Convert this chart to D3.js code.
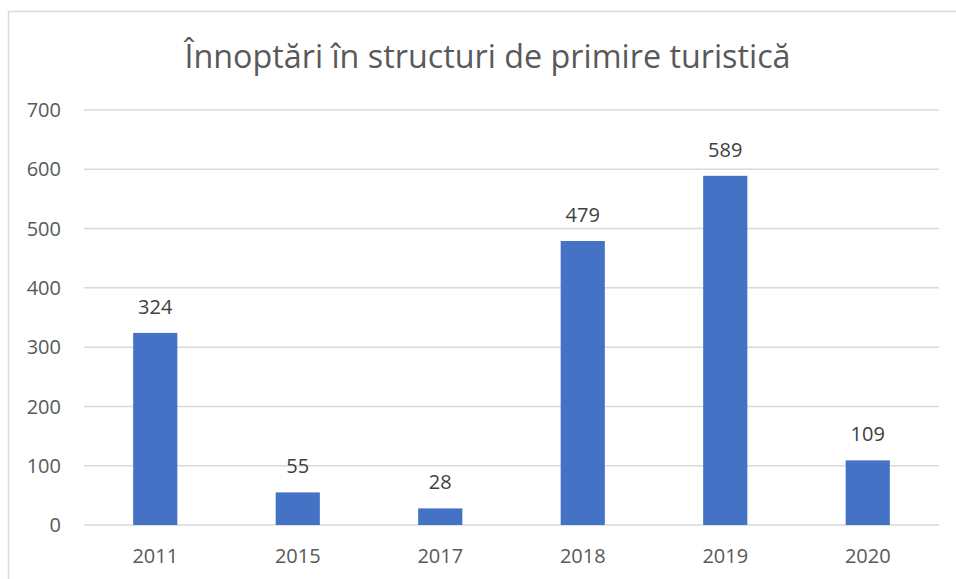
<!DOCTYPE html>
<html>
<head>
<meta charset="utf-8">
<script src="https://cdn.jsdelivr.net/npm/d3@7"></script>
<style>
  body { margin: 0; background: #fff; }
  svg text { font-family: "Open Sans", "Noto Sans", sans-serif; }
</style>
</head>
<body>
<svg id="chart"></svg>
<script>
const title = "Înnoptări în structuri de primire turistică";
const years = ["2011", "2015", "2017", "2018", "2019", "2020"];
const nights = [324, 55, 28, 479, 589, 109];
const yTicks = [0, 100, 200, 300, 400, 500, 600, 700];

const width = 956, height = 579;
const margin = { top: 110, right: 17, bottom: 54, left: 84 };

const svg = d3.select("#chart")
    .attr("width", width)
    .attr("height", height);

// chart frame
svg.append("rect")
    .attr("x", 8.5)
    .attr("y", 11.5)
    .attr("width", width)
    .attr("height", height)
    .attr("fill", "none")
    .attr("stroke", "#d9d9d9")
    .attr("stroke-width", 1.5);

const x = d3.scaleBand()
    .domain(years)
    .range([margin.left, width - margin.right])
    .paddingInner(0.69)
    .paddingOuter(0.345);

const y = d3.scaleLinear()
    .domain([0, 700])
    .range([height - margin.bottom, margin.top]);

// gridlines
svg.append("g")
    .selectAll("line")
    .data(yTicks)
    .enter().append("line")
    .attr("x1", margin.left)
    .attr("x2", width - margin.right)
    .attr("y1", d => y(d))
    .attr("y2", d => y(d))
    .attr("stroke", "#d9d9d9")
    .attr("stroke-width", 1.5);

// y labels
svg.append("g")
    .selectAll("text")
    .data(yTicks)
    .enter().append("text")
    .attr("x", 61)
    .attr("y", d => y(d))
    .attr("dy", "0.36em")
    .attr("text-anchor", "end")
    .style("font-size", "20px")
    .style("fill", "#595959")
    .text(d => d);

// bars
svg.append("g")
    .selectAll("rect")
    .data(nights)
    .enter().append("rect")
    .attr("x", (d, i) => x(years[i]))
    .attr("y", d => y(d))
    .attr("width", x.bandwidth())
    .attr("height", d => y(0) - y(d))
    .attr("fill", "#4472c4");

// value labels
svg.append("g")
    .selectAll("text")
    .data(nights)
    .enter().append("text")
    .attr("x", (d, i) => x(years[i]) + x.bandwidth() / 2)
    .attr("y", d => y(d) - 19)
    .attr("text-anchor", "middle")
    .style("font-size", "20px")
    .style("fill", "#404040")
    .text(d => d);

// x labels
svg.append("g")
    .selectAll("text")
    .data(years)
    .enter().append("text")
    .attr("x", d => x(d) + x.bandwidth() / 2)
    .attr("y", 563)
    .attr("text-anchor", "middle")
    .style("font-size", "20px")
    .style("fill", "#595959")
    .text(d => d);

svg.append("text")
    .attr("x", (183 + 792) / 2)
    .attr("y", 68)
    .attr("text-anchor", "middle")
    .style("font-size", "32.3px")
    .style("fill", "#595959")
    .text(title);
</script>
</body>
</html>
